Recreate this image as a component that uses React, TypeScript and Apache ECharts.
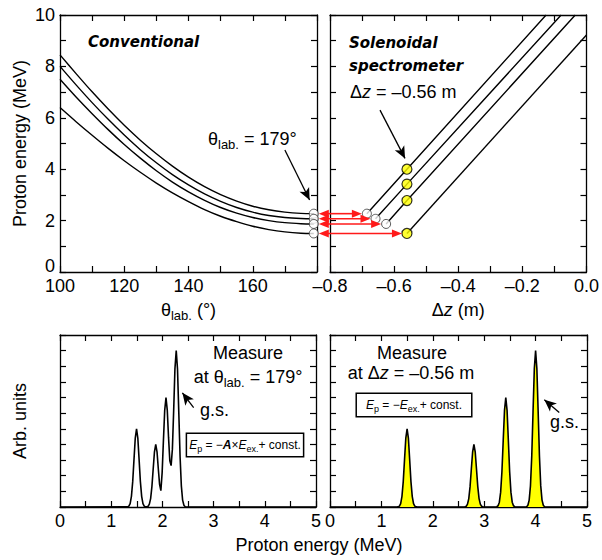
import React, { useEffect, useRef } from 'react';
import * as echarts from 'echarts';

// ---------- data ----------
const thetaDeg = [100, 105, 110, 115, 120, 125, 130, 135, 140, 145, 150, 155, 160, 165, 170, 175, 179];
const convE1 = [8.45, 7.72, 7.01, 6.34, 5.71, 5.13, 4.6, 4.12, 3.69, 3.32, 3.01, 2.76, 2.56, 2.42, 2.33, 2.28, 2.27];
const convE2 = [8.0, 7.28, 6.59, 5.94, 5.33, 4.76, 4.25, 3.79, 3.39, 3.04, 2.75, 2.51, 2.33, 2.2, 2.12, 2.08, 2.07];
const convE3 = [7.5, 6.81, 6.16, 5.54, 4.96, 4.43, 3.94, 3.5, 3.12, 2.79, 2.51, 2.29, 2.12, 2.0, 1.92, 1.88, 1.87];
const convE4 = [6.4, 5.85, 5.32, 4.81, 4.33, 3.88, 3.46, 3.08, 2.74, 2.43, 2.17, 1.96, 1.78, 1.65, 1.56, 1.51, 1.5];
const thetaMeasure = 179;
const stateE = [2.27, 2.07, 1.87, 1.5];

const zStart = [-0.685, -0.658, -0.625, -0.56];
const zEnd = [-0.126, -0.079, -0.035, 0];
const eEnd = [10, 10, 10, 9.22];
const zMeasure = -0.56;
const measuredE = [4.0, 3.42, 2.78, 1.5];

const specLeftE = [0, 1.32, 1.345, 1.37, 1.395, 1.42, 1.445, 1.47, 1.495, 1.52, 1.545, 1.57, 1.595, 1.62, 1.645, 1.67, 1.695, 1.72, 1.745, 1.77, 1.795, 1.82, 1.845, 1.87, 1.895, 1.92, 1.945, 1.97, 1.995, 2.02, 2.045, 2.07, 2.095, 2.12, 2.145, 2.17, 2.195, 2.22, 2.245, 2.27, 2.295, 2.32, 2.345, 2.37, 2.395, 2.42, 2.445, 2.47, 5];
const specLeftY = [0, 0.01, 0.06, 0.22, 0.68, 1.62, 3.03, 4.41, 5.0, 4.41, 3.03, 1.62, 0.68, 0.22, 0.06, 0.01, 0.01, 0.04, 0.18, 0.54, 1.3, 2.43, 3.53, 4.0, 3.53, 2.45, 1.45, 1.05, 2.2, 4.25, 6.18, 7.0, 6.2, 4.45, 2.95, 2.65, 3.7, 6.15, 8.85, 10, 8.83, 6.07, 3.25, 1.35, 0.44, 0.11, 0.02, 0, 0];

const specRightE = [0, 1.3, 1.325, 1.35, 1.375, 1.4, 1.425, 1.45, 1.475, 1.5, 1.525, 1.55, 1.575, 1.6, 1.625, 1.65, 1.675, 1.7,
  2.6, 2.625, 2.65, 2.675, 2.7, 2.725, 2.75, 2.775, 2.8, 2.825, 2.85, 2.875, 2.9, 2.925, 2.95, 2.975, 3.0,
  3.22, 3.245, 3.27, 3.295, 3.32, 3.345, 3.37, 3.395, 3.42, 3.445, 3.47, 3.495, 3.52, 3.545, 3.57, 3.595, 3.62,
  3.8, 3.825, 3.85, 3.875, 3.9, 3.925, 3.95, 3.975, 4.0, 4.025, 4.05, 4.075, 4.1, 4.125, 4.15, 4.175, 4.2, 5];
const specRightY = [0, 0, 0.01, 0.06, 0.22, 0.68, 1.62, 3.03, 4.41, 5, 4.41, 3.03, 1.62, 0.68, 0.22, 0.06, 0.01, 0,
  0, 0.01, 0.04, 0.18, 0.54, 1.3, 2.43, 3.53, 4, 3.53, 2.43, 1.3, 0.54, 0.18, 0.04, 0.01, 0,
  0, 0.02, 0.08, 0.31, 0.95, 2.27, 4.25, 6.18, 7, 6.18, 4.25, 2.27, 0.95, 0.31, 0.08, 0.02, 0,
  0, 0.02, 0.11, 0.44, 1.35, 3.25, 6.07, 8.83, 10, 8.83, 6.07, 3.25, 1.35, 0.44, 0.11, 0.02, 0, 0];

// ---------- style ----------
const F = '"Liberation Sans", Arial, sans-serif';
const FB = '"DejaVu Sans", Verdana, sans-serif';
const BLACK = '#000';
const RED = '#ff1a1a';
const YELLOW = '#ffff00';

const rich18: any = {
  a: { fontFamily: F, fontSize: 18, lineHeight: 24, verticalAlign: 'middle', color: BLACK },
  i: { fontFamily: F, fontSize: 18, fontStyle: 'italic', lineHeight: 24, verticalAlign: 'middle', color: BLACK },
  s: { fontFamily: F, fontSize: 13, lineHeight: 10, verticalAlign: 'bottom', color: BLACK },
};
const richBox: any = {
  n: { fontFamily: F, fontSize: 12, lineHeight: 16, verticalAlign: 'middle', color: BLACK },
  i: { fontFamily: F, fontSize: 12, fontStyle: 'italic', lineHeight: 16, verticalAlign: 'middle', color: BLACK },
  r: { fontFamily: F, fontSize: 12, fontStyle: 'italic', fontWeight: 'bold', lineHeight: 16, verticalAlign: 'middle', color: RED },
  s: { fontFamily: F, fontSize: 9, lineHeight: 8, verticalAlign: 'bottom', color: BLACK },
};

const grids = [
  { left: 60, top: 15, width: 257, height: 257 },
  { left: 330, top: 15, width: 257, height: 257 },
  { left: 60, top: 335, width: 256, height: 172 },
  { left: 330, top: 335, width: 257, height: 172 },
];

const tick = { show: true, inside: true, length: 6, lineStyle: { color: BLACK, width: 1.2 } };
const line = { show: true, onZero: false, lineStyle: { color: BLACK, width: 1.3 } };

function mkX(gi: number, min: number, max: number, interval: number, fmt: (v: number) => string, name?: any) {
  return [
    {
      type: 'value', gridIndex: gi, position: 'bottom', min, max, interval,
      axisLine: line, axisTick: tick, splitLine: { show: false },
      axisLabel: { show: true, formatter: fmt, fontFamily: F, fontSize: 18, color: BLACK, margin: 5 },
      ...(name || {}),
    },
    {
      type: 'value', gridIndex: gi, position: 'top', min, max, interval,
      axisLine: line, axisTick: tick, splitLine: { show: false }, axisLabel: { show: false },
    },
  ];
}
function mkY(gi: number, min: number, max: number, interval: number, fmt: ((v: number) => string) | null, name?: any) {
  return [
    {
      type: 'value', gridIndex: gi, position: 'left', min, max, interval,
      axisLine: line, axisTick: tick, splitLine: { show: false },
      axisLabel: fmt
        ? { show: true, formatter: fmt, fontFamily: F, fontSize: 18, color: BLACK, margin: 5,
            rich: { z: { fontFamily: F, fontSize: 18, color: BLACK, padding: [0, 0, 12, 0] } } }
        : { show: false },
      ...(name || {}),
    },
    {
      type: 'value', gridIndex: gi, position: 'right', min, max, interval,
      axisLine: line, axisTick: tick, splitLine: { show: false }, axisLabel: { show: false },
    },
  ];
}

const arrowLine = (from: number[], to: number[]) => ({
  silent: true,
  symbol: ['none', 'arrow'],
  symbolSize: [8, 12],
  lineStyle: { color: BLACK, width: 1.3, type: 'solid' },
  label: { show: false },
  emphasis: { disabled: true },
  data: [[{ coord: from }, { coord: to }]],
});

export default function App() {
  const ref = useRef<HTMLDivElement>(null);
  useEffect(() => {
    const chart = echarts.init(ref.current!, null, { renderer: 'svg' });
    const convSets = [convE1, convE2, convE3, convE4];
    const series: any[] = [];
    convSets.forEach((arr) => {
      series.push({
        type: 'line', xAxisIndex: 0, yAxisIndex: 0, showSymbol: false, smooth: 0.3,
        data: thetaDeg.map((t, i) => [t, arr[i]]),
        lineStyle: { color: BLACK, width: 1.4 }, emphasis: { disabled: true }, silent: true,
      });
    });
    series.push({
      type: 'scatter', xAxisIndex: 0, yAxisIndex: 0, symbolSize: 9, z: 5, silent: true,
      data: stateE.map((e) => [thetaMeasure, e]),
      itemStyle: { color: '#fff', borderColor: '#333', borderWidth: 1 },
      markLine: arrowLine([170, 4.75], [177.7, 2.8]),
    }); // 4
    stateE.forEach((e, i) => {
      series.push({
        type: 'line', xAxisIndex: 2, yAxisIndex: 2, showSymbol: false,
        data: [[zStart[i], e], [zMeasure, measuredE[i]], [zEnd[i], eEnd[i]]],
        lineStyle: { color: BLACK, width: 1.4 }, emphasis: { disabled: true }, silent: true,
      });
    }); // 5-8
    series.push({
      type: 'scatter', xAxisIndex: 2, yAxisIndex: 2, symbolSize: 9, z: 5, silent: true,
      data: stateE.slice(0, 3).map((e, i) => [zStart[i], e]),
      itemStyle: { color: '#fff', borderColor: '#333', borderWidth: 1 },
    }); // 9
    series.push({
      type: 'scatter', xAxisIndex: 2, yAxisIndex: 2, symbolSize: 10, z: 5, silent: true,
      data: measuredE.map((e) => [zMeasure, e]),
      itemStyle: { color: YELLOW, borderColor: BLACK, borderWidth: 1.2 },
      markLine: arrowLine([-0.644, 6.3], [-0.566, 4.42]),
    }); // 10
    series.push({
      type: 'line', xAxisIndex: 4, yAxisIndex: 4, showSymbol: false,
      data: specLeftE.map((x, i) => [x, specLeftY[i]]),
      lineStyle: { color: BLACK, width: 1.6 }, emphasis: { disabled: true }, silent: true,
      markLine: arrowLine([2.61, 6.35], [2.39, 7.3]),
    }); // 11
    series.push({
      type: 'line', xAxisIndex: 6, yAxisIndex: 6, showSymbol: false,
      data: specRightE.map((x, i) => [x, specRightY[i]]),
      lineStyle: { color: BLACK, width: 1.6 }, areaStyle: { color: YELLOW, opacity: 1 },
      emphasis: { disabled: true }, silent: true,
      markLine: arrowLine([4.46, 6.04], [4.17, 6.86]),
    }); // 12

    const fmtTheta = (v: number) => (v % 20 === 0 && v < 180 ? String(v) : '');
    const fmtEven = (v: number) => (v === 0 ? '{z|0}' : v % 2 === 0 ? String(v) : '');
    const fmtZ = (v: number) => {
      const r = Math.round(v * 10);
      if (r % 2 !== 0) return '';
      if (r === 0) return '0.0';
      return '\u2013' + (Math.abs(r) / 10).toFixed(1);
    };
    const fmtInt = (v: number) => (Math.abs(v - Math.round(v)) < 1e-6 ? String(Math.round(v)) : '');

    const option: any = {
      animation: false,
      backgroundColor: '#fff',
      grid: grids.map((g) => ({ ...g, containLabel: false })),
      xAxis: [
        ...mkX(0, 100, 180, 10, fmtTheta, {
          name: '{a|\u03b8}{s|lab.}{a| (\u00b0)}', nameLocation: 'middle', nameGap: 26,
          nameTextStyle: { rich: rich18 },
        }),
        ...mkX(1, -0.8, 0, 0.1, fmtZ, {
          name: '{a|\u0394}{i|z}{a| (m)}', nameLocation: 'middle', nameGap: 26,
          nameTextStyle: { rich: rich18 },
        }),
        ...mkX(2, 0, 5, 0.5, fmtInt),
        ...mkX(3, 0, 5, 0.5, fmtInt),
      ],
      yAxis: [
        ...mkY(0, 0, 10, 1, fmtEven, {
          name: 'Proton energy (MeV)', nameLocation: 'middle', nameGap: 31,
          nameTextStyle: { fontFamily: F, fontSize: 18, color: BLACK },
        }),
        ...mkY(1, 0, 10, 1, null),
        ...mkY(2, 0, 11, 1, null, {
          name: 'Arb. units', nameLocation: 'middle', nameGap: 31,
          nameTextStyle: { fontFamily: F, fontSize: 18, color: BLACK },
        }),
        ...mkY(3, 0, 11, 1, null),
      ],
      series,
    };
    chart.setOption(option);

    // ---------- annotations ----------
    const graphic: any[] = [];
    const txt = (x: number, y: number, text: string, rich: any, align = 'left', extra: any = {}) => ({
      type: 'text', x, y, silent: true, z: 20,
      style: { text, rich, align, verticalAlign: 'middle', fill: BLACK, ...extra },
    });
    const boldItalic = (x: number, y: number, text: string) => ({
      type: 'text', x, y, silent: true,
      style: { text, fontFamily: FB, fontSize: 15, fontWeight: 'bold', fontStyle: 'italic', fill: BLACK, align: 'left', verticalAlign: 'middle' },
    });
    graphic.push(boldItalic(88, 42, 'Conventional'));
    graphic.push(boldItalic(349, 43, 'Solenoidal'));
    graphic.push(boldItalic(349, 66, 'spectrometer'));
    graphic.push(txt(208, 139, '{a|\u03b8}{s|lab.}{a| = 179\u00b0}', rich18));
    graphic.push(txt(350, 92, '{a|\u0394}{i|z}{a| = \u20130.56 m}', rich18));
    graphic.push(txt(248, 353, '{a|Measure}', rich18, 'center'));
    graphic.push(txt(248, 377, '{a|at \u03b8}{s|lab.}{a| = 179\u00b0}', rich18, 'center'));
    graphic.push(txt(200, 410, '{a|g.s.}', rich18));
    graphic.push(txt(245, 445, '{i|E}{s|p}{n| = \u2212}{r|A}{n|\u00d7}{i|E}{s|ex.}{n|+ const.}', richBox, 'center', {
      backgroundColor: '#fff', borderColor: BLACK, borderWidth: 1.5, padding: [3, 2, 3, 2],
    }));
    graphic.push(txt(412, 353, '{a|Measure}', rich18, 'center'));
    graphic.push(txt(411, 373, '{a|at \u0394}{i|z}{a| = \u20130.56 m}', rich18, 'center'));
    graphic.push(txt(414, 405, '{i|E}{s|p}{n| = \u2212}{i|E}{s|ex.}{n|+ const.}', richBox, 'center', {
      backgroundColor: '#fff', borderColor: BLACK, borderWidth: 1.5, padding: [3, 9, 3, 9],
    }));
    graphic.push(txt(550, 422, '{a|g.s.}', rich18));
    graphic.push(txt(319, 545, '{a|Proton energy (MeV)}', rich18, 'center'));

    // red double arrows between the two top panels
    const HL = 10, HW = 4, R = 5;
    stateE.forEach((e, i) => {
      const pl = chart.convertToPixel({ seriesIndex: 4 }, [thetaMeasure, e]) as number[];
      const pr = i < 3
        ? (chart.convertToPixel({ seriesIndex: 9 }, [zStart[i], e]) as number[])
        : (chart.convertToPixel({ seriesIndex: 10 }, [zMeasure, e]) as number[]);
      const y = pl[1];
      const x1 = pl[0] + R;
      const x2 = pr[0] - R;
      graphic.push({
        type: 'line', silent: true, z: 15,
        shape: { x1: x1 + HL - 1, y1: y, x2: x2 - HL + 1, y2: y },
        style: { stroke: RED, lineWidth: 1.6 },
      });
      graphic.push({
        type: 'polygon', silent: true, z: 15,
        shape: { points: [[x1, y], [x1 + HL, y - HW], [x1 + HL, y + HW]] },
        style: { fill: RED },
      });
      graphic.push({
        type: 'polygon', silent: true, z: 15,
        shape: { points: [[x2, y], [x2 - HL, y - HW], [x2 - HL, y + HW]] },
        style: { fill: RED },
      });
    });
    chart.setOption({ graphic });

    return () => chart.dispose();
  }, []);
  return <div ref={ref} style={{ position: 'absolute', left: 0, top: 0, width: 602, height: 560, background: '#fff' }} />;
}
